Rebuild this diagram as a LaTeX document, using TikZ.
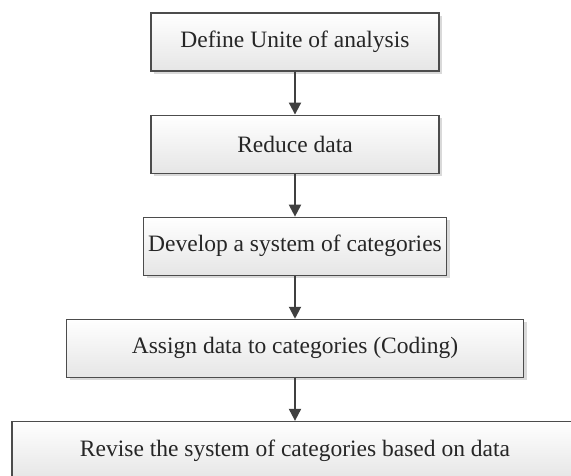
\documentclass[tikz,border=0pt]{standalone}
\usepackage{fontspec}
\setmainfont{Liberation Serif}
\usetikzlibrary{arrows.meta,positioning,shadows}

\begin{document}
\begin{tikzpicture}[
  x=1pt, y=1pt,
  font=\fontsize{23.5}{28}\selectfont,
  >={Triangle[width=12pt,length=12pt]},
  stage/.style={draw=black!70, line width=1.1pt, top color=white, bottom color=black!10,
    minimum height=58pt, inner xsep=2pt, align=center, text=black!85,
    drop shadow={shadow xshift=3pt, shadow yshift=-3pt, fill=black!15, opacity=1}},
  flow/.style={->, line width=2pt, draw=black!75, fill=black!75}
]
\useasboundingbox (0,0) rectangle (571,-475);
\clip (0,0) rectangle (571,-475);

\node[stage, minimum width=288pt] (unit) at (295,-42) {Define Unite of analysis};
\node[stage, minimum width=288pt, below=43pt of unit] (reduce) {Reduce data};
\node[stage, minimum width=303pt, below=43pt of reduce] (develop) {Develop a system of categories};
\node[stage, minimum width=457pt, below=43pt of develop] (assign) {Assign data to categories (Coding)};
\node[stage, minimum width=566pt, below=43pt of assign] (revise) {Revise the system of categories based on data};

\draw[flow] (unit) -- (reduce);
\draw[flow] (reduce) -- (develop);
\draw[flow] (develop) -- (assign);
\draw[flow] (assign) -- (revise);

\end{tikzpicture}
\end{document}
